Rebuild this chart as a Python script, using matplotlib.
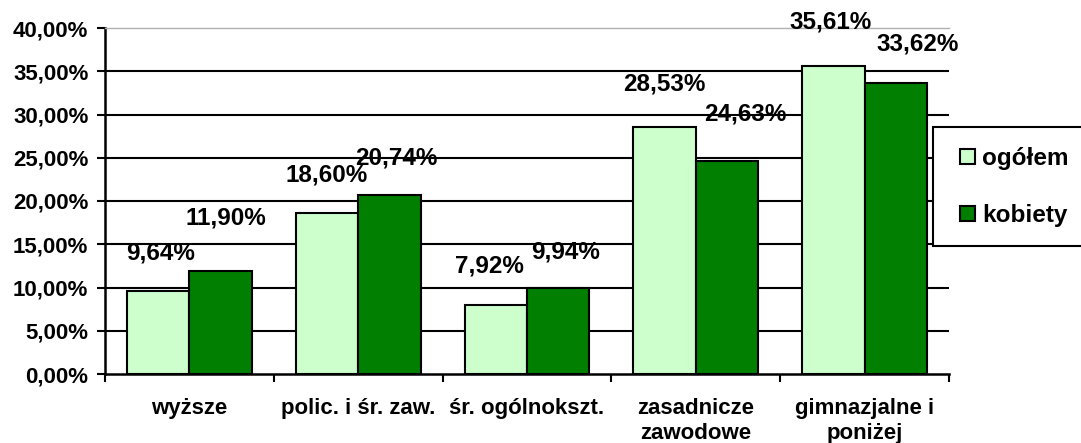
import matplotlib.pyplot as plt
from matplotlib.patches import Rectangle
from matplotlib.ticker import FuncFormatter, FixedLocator
import numpy as np

categories = ['wyższe', 'polic. i śr. zaw.', 'śr. ogólnokszt.',
              'zasadnicze\nzawodowe', 'gimnazjalne i\nponiżej']
ogolem = [9.64, 18.60, 7.92, 28.53, 35.61]
kobiety = [11.90, 20.74, 9.94, 24.63, 33.62]
series_names = ['ogółem', 'kobiety']

# label offsets from top of bar (pixels), as placed in the original
off_ogolem = [(2, 38), (0, 38), (-6, 39), (0, 43), (-3, 44)]
off_kobiety = [(5, 53), (7, 37), (7, 36), (18, 47), (22, 39)]

plt.rcParams['font.family'] = ['Liberation Sans', 'DejaVu Sans']
plt.rcParams['font.weight'] = 'bold'
fs_tick = 16
fs_lab = 17.5

fig = plt.figure(figsize=(10.81, 4.43), dpi=100)
ax = fig.add_axes([105 / 1081, 1 - 374 / 443, 844 / 1081, 346 / 443])

x = np.arange(len(categories))
w = 0.37
b1 = ax.bar(x - w / 2, ogolem, w, color='#ccffcc', edgecolor='black', linewidth=1.5, zorder=3)
b2 = ax.bar(x + w / 2, kobiety, w, color='#007f00', edgecolor='black', linewidth=1.5, zorder=3)

def pct(v):
    return ('%.2f%%' % v).replace('.', ',')

for xs, vals, offs in [(x - w / 2, ogolem, off_ogolem), (x + w / 2, kobiety, off_kobiety)]:
    for xi, v, (dx, dy) in zip(xs, vals, offs):
        ax.annotate(pct(v), (xi, v), xytext=(dx, dy), textcoords='offset pixels',
                    ha='center', va='center', fontsize=fs_lab, fontweight='bold', zorder=5)

ax.set_xlim(-0.5, len(categories) - 0.5)
ax.set_ylim(0, 40)
ax.set_yticks(np.arange(0, 41, 5))
ax.yaxis.set_major_formatter(FuncFormatter(lambda v, p: pct(v)))
for yv in range(5, 40, 5):
    ax.axhline(yv, color='black', linewidth=1.5, zorder=1)

ax.set_xticks(x)
ax.set_xticklabels(categories, fontsize=fs_tick, fontweight='bold', linespacing=1.25)
ax.tick_params(axis='x', length=0, pad=17)
ax.xaxis.set_minor_locator(FixedLocator(np.arange(-0.5, len(categories), 1)))
ax.tick_params(axis='x', which='minor', length=6, width=1.5, direction='out')
ax.tick_params(axis='y', length=6, width=1.5, pad=6, labelsize=fs_tick)
for lab in ax.get_yticklabels():
    lab.set_fontweight('bold')

ax.spines['right'].set_visible(False)
ax.spines['top'].set_color('#b0b0b0')
ax.spines['top'].set_linewidth(1.0)
ax.spines['left'].set_linewidth(1.8)
ax.spines['bottom'].set_linewidth(1.8)

# legend frame
fig.patches.append(Rectangle((933 / 1081, 1 - 246 / 443), 160 / 1081, 119 / 443,
                             transform=fig.transFigure, facecolor='white',
                             edgecolor='black', linewidth=1.5, zorder=10))
leg = fig.legend([b1, b2], series_names, loc='center left',
                 bbox_to_anchor=(960 / 1081, 1 - 187 / 443), bbox_transform=fig.transFigure,
                 frameon=False, borderpad=0, borderaxespad=0,
                 handlelength=0.6, handleheight=0.6, handletextpad=0.3,
                 labelspacing=1.4, prop={'size': fs_lab, 'weight': 'bold'})
leg.set_zorder(11)

fig.savefig('out.png', dpi=100)
